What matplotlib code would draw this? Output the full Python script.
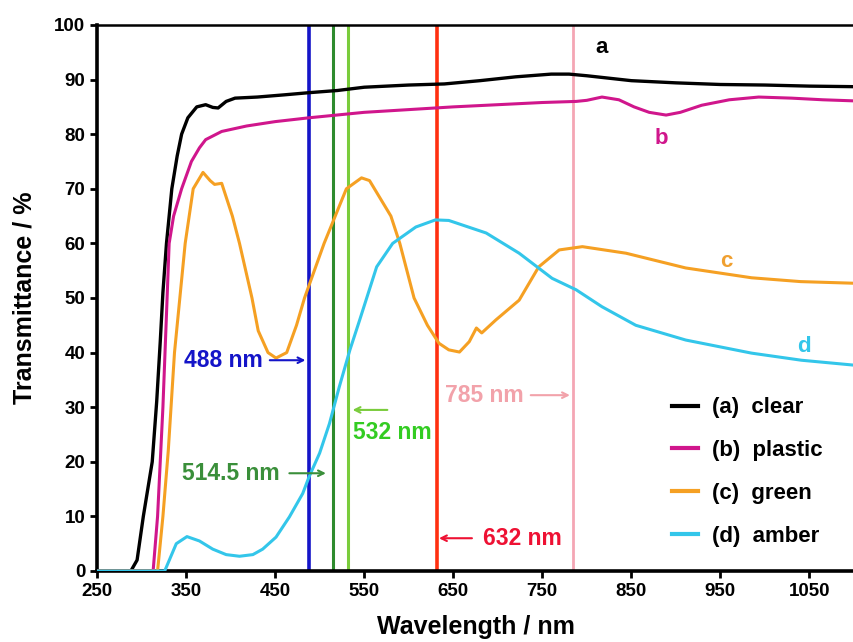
import matplotlib
matplotlib.use("Agg")
import matplotlib.pyplot as plt

plt.rcParams['font.family'] = ['Liberation Sans', 'DejaVu Sans']
plt.rcParams['font.weight'] = 'bold'

# (a) clear
wl_a = [250, 288, 295, 302, 312, 317, 321, 324, 328, 334, 340, 345, 352, 362, 372, 380,
        386, 395, 405, 430, 460, 488, 520, 550, 600, 640, 680, 720, 760, 780, 800, 850,
        900, 950, 1000, 1050, 1100]
t_a = [0, 0, 2, 10, 20, 31, 42, 51, 60, 70, 76, 80, 83, 85, 85.4, 84.9,
       84.8, 86, 86.6, 86.8, 87.2, 87.6, 88, 88.6, 89, 89.2, 89.8, 90.5, 91, 91, 90.7, 89.8,
       89.4, 89.1, 89, 88.8, 88.7]

# (b) plastic
wl_b = [250, 313, 318, 321, 324, 328, 331, 336, 345, 356, 365, 372, 390, 418, 450, 488,
        550, 600, 650, 700, 750, 788, 800, 817, 836, 853, 870, 889, 905, 929, 960, 993,
        1030, 1065, 1100]
t_b = [0, 0, 10, 20, 30, 47, 60, 65, 70, 75, 77.5, 79, 80.5, 81.5, 82.3, 83,
       84, 84.5, 85, 85.4, 85.8, 86, 86.2, 86.8, 86.3, 85, 84, 83.5, 84, 85.3, 86.3, 86.8,
       86.6, 86.3, 86.1]

# (c) green
wl_c = [250, 318, 324, 330, 337, 343, 349, 358, 369, 377, 382, 390, 402, 410, 424, 431,
        442, 451, 463, 474, 483, 505, 530, 547, 556, 580, 590, 606, 621, 634, 645, 657,
        668, 676, 682, 698, 724, 746, 769, 795, 844, 911, 985, 1040, 1100]
t_c = [0, 0, 10, 22, 40, 50, 60, 70, 73, 71.5, 70.8, 71, 65, 60, 50, 44,
       40, 39, 40, 45, 50, 60, 70, 72, 71.5, 65, 60, 50, 45, 41.7, 40.5, 40.1,
       42, 44.5, 43.6, 46, 49.6, 55.7, 58.8, 59.4, 58.2, 55.5, 53.7, 53, 52.7]

# (d) amber
wl_d = [250, 326, 339, 351, 365, 380, 395, 410, 425, 436, 451, 466, 481, 488, 500, 511,
        522, 534, 545, 564, 582, 608, 630, 645, 687, 724, 761, 788, 817, 855, 911, 985,
        1041, 1100]
t_d = [0, 0, 5, 6.3, 5.5, 4, 3, 2.7, 3, 4, 6.2, 9.9, 14.2, 17.2, 21.6, 27,
       33.7, 40.5, 46, 55.7, 60, 63, 64.3, 64.2, 61.9, 58.2, 53.6, 51.5, 48.4, 45, 42.3, 39.9,
       38.6, 37.7]

laser_nm = [488, 514.5, 532, 632, 785]
laser_colors = ['#1414c8', '#2e8b2e', '#7acc3c', '#ff3010', '#f4a6b4']
laser_widths = [2.6, 2.2, 2.2, 2.6, 2.0]

fig = plt.figure(figsize=(8.54, 6.42), dpi=100)
ax = fig.add_axes([0.1136, 0.1106, 0.8864, 0.8505])

for x, c, w in zip(laser_nm, laser_colors, laser_widths):
    ax.axvline(x, color=c, lw=w, zorder=1)

ax.plot(wl_a, t_a, color='black', lw=2.4, label='(a)  clear', zorder=3)
ax.plot(wl_b, t_b, color='#d0168c', lw=2.2, label='(b)  plastic', zorder=3)
ax.plot(wl_c, t_c, color='#f5a023', lw=2.2, label='(c)  green', zorder=3)
ax.plot(wl_d, t_d, color='#33c6ea', lw=2.2, label='(d)  amber', zorder=3)

# curve letters
ax.text(817, 95.8, 'a', color='black', fontsize=16, ha='center', va='center')
ax.text(884, 79.3, 'b', color='#d0168c', fontsize=16, ha='center', va='center')
ax.text(957, 56.6, 'c', color='#f0a030', fontsize=16, ha='center', va='center')
ax.text(1044, 41.2, 'd', color='#33c6ea', fontsize=16, ha='center', va='center')

# laser annotations
fs = 16.5
arr = dict(arrowstyle='->', lw=1.5, shrinkA=0, shrinkB=0)
ax.text(348, 38.6, '488 nm', color='#1414c8', fontsize=fs, ha='left', va='center')
ax.annotate('', xy=(484, 38.6), xytext=(444, 38.6), arrowprops=dict(arr, color='#1414c8'))
ax.text(345, 17.9, '514.5 nm', color='#3a8f3a', fontsize=fs, ha='left', va='center')
ax.annotate('', xy=(507, 17.9), xytext=(466, 17.9), arrowprops=dict(arr, color='#3a8f3a'))
ax.text(537, 25.3, '532 nm', color='#33cc22', fontsize=fs, ha='left', va='center')
ax.annotate('', xy=(537, 29.5), xytext=(576, 29.5), arrowprops=dict(arr, color='#7acc3c'))
ax.text(683, 6.0, '632 nm', color='#ee1133', fontsize=fs, ha='left', va='center')
ax.annotate('', xy=(634, 6.0), xytext=(671, 6.0), arrowprops=dict(arr, color='#ee1133'))
ax.text(641, 32.2, '785 nm', color='#f2a2aa', fontsize=fs, ha='left', va='center')
ax.annotate('', xy=(781, 32.2), xytext=(737, 32.2), arrowprops=dict(arr, color='#f2a2aa'))

ax.set_xlim(250, 1100)
ax.set_ylim(0, 100)
ax.set_xticks(range(250, 1100, 100))
ax.set_yticks(range(0, 101, 10))
ax.tick_params(axis='both', labelsize=13.5, width=2, length=5, direction='out')
for lab in ax.get_xticklabels() + ax.get_yticklabels():
    lab.set_fontweight('bold')

ax.spines['right'].set_visible(False)
ax.spines['left'].set_linewidth(2.6)
ax.spines['bottom'].set_linewidth(2.6)
ax.spines['top'].set_linewidth(1.8)

ax.set_xlabel('Wavelength / nm', fontsize=18, fontweight='bold', labelpad=11)
ax.set_ylabel('Transmittance / %', fontsize=18, fontweight='bold', labelpad=13)

leg = ax.legend(loc='upper left', bbox_to_anchor=(0.7596, 0.318), frameon=False,
                fontsize=16, handlelength=1.15, labelspacing=0.98, handletextpad=0.65,
                borderpad=0, borderaxespad=0)
for h in leg.legend_handles:
    h.set_linewidth(3)

fig.savefig('out.png', dpi=100)
